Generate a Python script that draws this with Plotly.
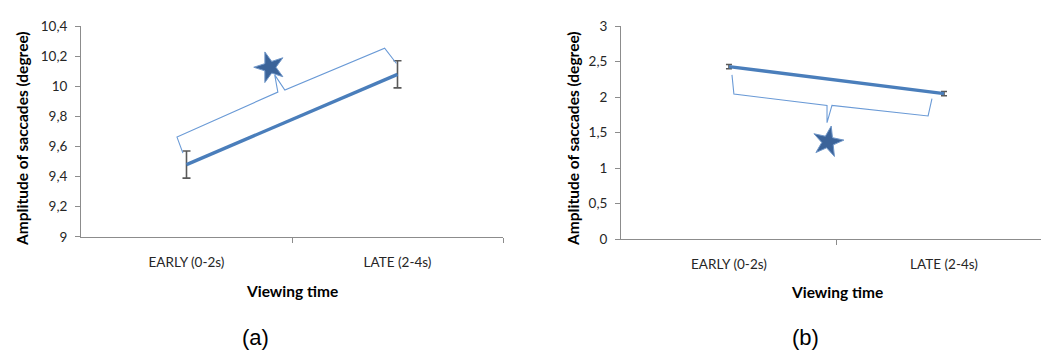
import plotly.graph_objects as go

# Viewing-time windows
categories = ["EARLY (0-2s)", "LATE (2-4s)"]
cat_pos = [0, 1]

# Panel (a): mean saccade amplitude and error
amp_a = [9.48, 10.08]
err_a = [0.09, 0.09]

# Panel (b): mean saccade amplitude and error
amp_b = [2.43, 2.05]
err_b = [0.03, 0.03]

yticks_a = [9, 9.2, 9.4, 9.6, 9.8, 10, 10.2, 10.4]
yticks_b = [0, 0.5, 1, 1.5, 2, 2.5, 3]

W, H = 1041, 360
LINE_BLUE = "#4a7ebb"
BRACE_BLUE = "#6a9ad6"
STAR_BLUE = "#3b6399"
AXIS_GREY = "#8c8c8c"
TXT = "#262626"
FONT = "Lato"


def px(x):
    return x / W


def py(y):
    return 1 - y / H


fig = go.Figure()

for amp, err, xa, ya, cap in [(amp_a, err_a, "x", "y", 4), (amp_b, err_b, "x2", "y2", 3)]:
    fig.add_trace(go.Scatter(
        x=cat_pos, y=amp, mode="lines", xaxis=xa, yaxis=ya,
        line=dict(color=LINE_BLUE, width=3.4),
        error_y=dict(type="data", array=err, color="#595959", thickness=1.6, width=cap),
        showlegend=False, hoverinfo="skip"))

# significance stars
fig.add_trace(go.Scatter(
    x=[0.395], y=[10.127], mode="markers", xaxis="x", yaxis="y",
    marker=dict(symbol="star", size=23, color=STAR_BLUE, angle=-18,
                line=dict(color="#6f96c8", width=1)),
    showlegend=False, hoverinfo="skip"))
fig.add_trace(go.Scatter(
    x=[0.46], y=[1.372], mode="markers", xaxis="x2", yaxis="y2",
    marker=dict(symbol="star", size=23, color=STAR_BLUE, angle=12,
                line=dict(color="#6f96c8", width=1)),
    showlegend=False, hoverinfo="skip"))

# curly braces spanning the two windows
brace_a = [(-0.017, 9.556), (-0.045, 9.663), (0.433, 9.962), (0.418, 10.076),
           (0.466, 9.975), (0.939, 10.254), (0.995, 10.152)]
brace_b = [(0.014, 2.314), (0.023, 2.045), (0.456, 1.884), (0.456, 1.641),
           (0.479, 1.884), (0.926, 1.736), (0.944, 1.978)]


def brace_path(pts):
    return "M " + " L ".join(f"{x},{y}" for x, y in pts)


shapes = [
    dict(type="path", path=brace_path(brace_a), xref="x", yref="y",
         line=dict(color=BRACE_BLUE, width=1.1)),
    dict(type="path", path=brace_path(brace_b), xref="x2", yref="y2",
         line=dict(color=BRACE_BLUE, width=1.1)),
]

xaxis_common = dict(
    showline=True, linecolor=AXIS_GREY, linewidth=1, showgrid=False, zeroline=False,
    tickvals=cat_pos, ticktext=categories, ticks="", ticklabelstandoff=13,
    tickfont=dict(family=FONT, size=13.5, color=TXT),
)
yaxis_common = dict(
    showline=True, linecolor=AXIS_GREY, linewidth=1, showgrid=False, zeroline=False,
    ticks="outside", ticklen=5, tickcolor=AXIS_GREY, ticklabelstandoff=5,
    tickfont=dict(family=FONT, size=13.5, color=TXT),
)

ybot_a, ytop = py(239.5), py(19)
ybot_b = py(242)

fig.update_layout(
    width=W, height=H, margin=dict(l=0, r=0, t=0, b=0),
    paper_bgcolor="white", plot_bgcolor="white", separators=", ",
    xaxis=dict(xaxis_common, domain=[px(81), px(503)], range=[-0.5, 1.5], anchor="y",
               minor=dict(tickvals=[0.5, 1.5], ticks="outside", ticklen=5,
                          tickcolor=AXIS_GREY)),
    yaxis=dict(yaxis_common, domain=[ybot_a, ytop], range=[9, 10.4],
               tickvals=yticks_a, anchor="x"),
    xaxis2=dict(xaxis_common, domain=[px(621), 1.0], range=[-0.502, 1.451], anchor="y2",
                minor=dict(tickvals=[0.5], ticks="outside", ticklen=5,
                           tickcolor=AXIS_GREY)),
    yaxis2=dict(yaxis_common, domain=[ybot_b, ytop], range=[0, 3],
                tickvals=yticks_b, anchor="x2"),
    shapes=shapes,
)

title_font = dict(family=FONT, size=15.5, color="black")
annotations = [
    dict(text="<b>Amplitude of saccades (degree)</b>", x=px(22), y=py(137), textangle=-90,
         font=title_font),
    dict(text="<b>Amplitude of saccades (degree)</b>", x=px(573), y=py(137), textangle=-90,
         font=title_font),
    dict(text="<b>Viewing time</b>", x=px(292), y=py(296), font=title_font),
    dict(text="<b>Viewing time</b>", x=px(837), y=py(297), font=title_font),
    dict(text="(a)", x=px(255), y=py(345),
         font=dict(family="Liberation Sans", size=22, color="black")),
    dict(text="(b)", x=px(805), y=py(345),
         font=dict(family="Liberation Sans", size=22, color="black")),
]
for a in annotations:
    a.update(xref="paper", yref="paper", showarrow=False, xanchor="center", yanchor="middle")
fig.update_layout(annotations=annotations)

fig.write_html("out.html")
